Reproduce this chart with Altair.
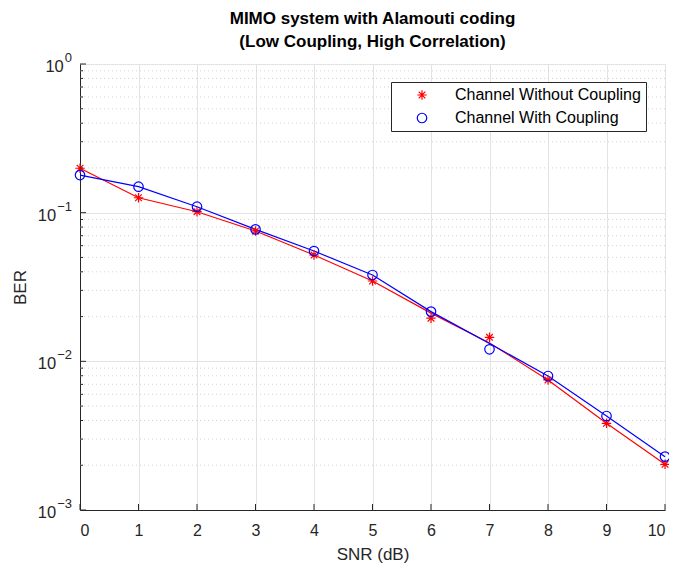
import altair as alt
import pandas as pd

# ---- data ----
snr = [0, 1, 2, 3, 4, 5, 6, 7, 8, 9, 10]
series_names = ["Channel Without Coupling", "Channel With Coupling"]
ber_without = [0.199, 0.126, 0.1015, 0.0753, 0.0519, 0.0347, 0.0195, 0.0145, 0.0075, 0.00383, 0.00203]
ber_with = [0.179, 0.1495, 0.1097, 0.0772, 0.0552, 0.0381, 0.0216, 0.01205, 0.00797, 0.00429, 0.002285]
fit_without = [0.199, 0.126, 0.1015, 0.0753, 0.0519, 0.0347, 0.0211, 0.0133, 0.0075, 0.00383, 0.00203]
fit_with = [0.179, 0.1495, 0.1097, 0.0772, 0.0552, 0.0381, 0.0216, 0.0132, 0.00797, 0.00429, 0.002285]
decades = [0.001, 0.01, 0.1, 1]
decade_base = ["10", "10", "10", "10"]
decade_exp = ["\u22123", "\u22122", "\u22121", "0"]
minor_vals = [m * d for d in [0.001, 0.01, 0.1] for m in range(2, 10)]

FONT = "Liberation Sans"
RED = "#ff0000"
BLUE = "#0000ff"
TXT = "#262626"
ASTERISK = "M-1,0L1,0M0,-1L0,1M-0.7,-0.7L0.7,0.7M-0.7,0.7L0.7,-0.7"

pts = pd.DataFrame({
    "snr": snr * 2,
    "ber": ber_without + ber_with,
    "series": [series_names[0]] * len(snr) + [series_names[1]] * len(snr),
})
fits = pd.DataFrame({
    "snr": snr * 2,
    "ber": fit_without + fit_with,
    "series": [series_names[0]] * len(snr) + [series_names[1]] * len(snr),
})
dec_df = pd.DataFrame({"ber": decades, "base": decade_base, "exp": decade_exp})
minor_df = pd.DataFrame({"ber": minor_vals})
xt_df = pd.DataFrame({"snr": snr})

xscale = alt.Scale(domain=[0, 10], nice=False)
yscale = alt.Scale(type="log", domain=[0.001, 1], nice=False)

x_axis = alt.Axis(values=snr, grid=True, tickSize=0, labelPadding=12, titlePadding=8)
y_axis = alt.Axis(values=decades, grid=True, tickSize=0, labels=False, titlePadding=50)


def X(field="snr:Q"):
    return alt.X(field, scale=xscale, title="SNR (dB)", axis=x_axis)


def Y(field="ber:Q"):
    return alt.Y(field, scale=yscale, title="BER", axis=y_axis)


minor_grid = alt.Chart(minor_df).mark_rule(
    color="#d4d4d4", strokeWidth=1, strokeDash=[1, 3]
).encode(y=Y())

minor_ticks = alt.Chart(minor_df).mark_rule(color=TXT, strokeWidth=1).encode(
    y=Y(), x=alt.value(0), x2=alt.value(3)
)
major_yticks = alt.Chart(dec_df).mark_rule(color=TXT, strokeWidth=1).encode(
    y=Y(), x=alt.value(0), x2=alt.value(6)
)
major_xticks = alt.Chart(xt_df).mark_rule(color=TXT, strokeWidth=1).encode(
    x=X(), y=alt.value(446), y2=alt.value(440)
)

# y tick labels as 10 with a raised exponent
exp_labels = alt.Chart(dec_df).mark_text(
    font=FONT, fontSize=13, color=TXT, align="right", baseline="middle", dy=-6
).encode(y=Y(), x=alt.value(-8), text="exp:N")
base_labels = alt.Chart(dec_df).transform_calculate(
    px="-9 - (length(datum.exp) == 1 ? 7.2 : 14.8)"
).mark_text(
    font=FONT, fontSize=16.5, color=TXT, align="right", baseline="middle", dy=3
).encode(y=Y(), x=alt.X("px:Q", scale=None), text="base:N")

line_red = alt.Chart(fits).transform_filter(
    alt.datum.series == series_names[0]
).mark_line(strokeWidth=1.2, color=RED).encode(x=X(), y=Y())
line_blue = alt.Chart(fits).transform_filter(
    alt.datum.series == series_names[1]
).mark_line(strokeWidth=1.2, color=BLUE).encode(x=X(), y=Y())

color_scale = alt.Scale(domain=series_names, range=[RED, BLUE])

points = alt.Chart(pts).mark_point(filled=False, strokeWidth=1.2, opacity=1).encode(
    x=X(),
    y=Y(),
    color=alt.Color("series:N", scale=color_scale, title=None,
                    legend=alt.Legend(orient="none", legendX=311, legendY=18,
                                      fillColor="white", strokeColor=TXT,
                                      padding=5, symbolOffset=18, labelOffset=25,
                                      rowPadding=7, labelFontSize=16, labelFont=FONT,
                                      labelColor="#000000", symbolSize=90,
                                      symbolStrokeWidth=1.2, labelLimit=300)),
    shape=alt.Shape("series:N", title=None,
                    scale=alt.Scale(domain=series_names, range=[ASTERISK, "circle"])),
    size=alt.value(90),
)

chart = alt.layer(
    minor_grid, line_red, line_blue, points, minor_ticks, major_yticks, major_xticks,
    exp_labels, base_labels
).properties(
    width=585, height=446,
    background="white",
    title=alt.Title(["MIMO system with Alamouti coding", "(Low Coupling, High Correlation)"],
                    fontSize=17, font=FONT, fontWeight="bold", color="#000000",
                    anchor="middle", lineHeight=23, offset=1),
    autosize=alt.AutoSizeParams(type="none"),
    padding={"left": 72, "top": 56, "right": 4, "bottom": 54},
).configure_view(stroke=None).configure_axis(
    gridColor="#e3e3e3", gridWidth=1, domainColor=TXT, domainWidth=1,
    labelFont=FONT, labelFontSize=16, labelColor=TXT,
    titleFont=FONT, titleFontSize=17, titleFontWeight="normal", titleColor=TXT,
)

chart.save("out.html", embed_options={"renderer": "svg", "actions": False})
